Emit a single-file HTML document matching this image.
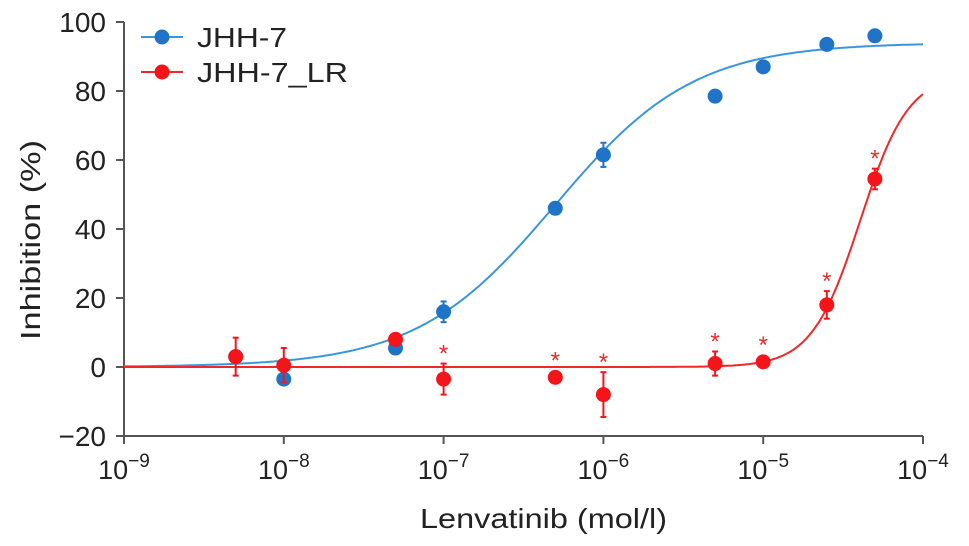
<!DOCTYPE html>
<html><head><meta charset="utf-8"><style>
body{margin:0;background:#fff;}
svg{display:block;font-family:"Liberation Sans",Arial,sans-serif;}
</style></head><body>
<svg id="chart" width="969" height="546"></svg>
<script>
const doses=[5e-9,1e-8,5e-8,1e-7,5e-7,1e-6,5e-6,1e-5,2.5e-5,5e-5];
const blueVals=[3,-3.5,5.5,16,46,61.5,78.5,87,93.5,96];
const blueErr=[0,0,1.5,3,0,3.5,0,0,0,0];
const redVals=[3,0.5,8,-3.5,-3,-8,1,1.5,18,54.5];
const redErr=[5.5,5,0,4.5,0,6.5,3.5,0,4,3];
const redSig=[0,0,0,1,1,1,1,1,1,1];
const blueFit={top:94,ec50:5e-7,hill:1};
const redFit={top:85,ec50:4.05e-5,hill:2.87};
const yTicks=[-20,0,20,40,60,80,100];
const xTickExp=[-9,-8,-7,-6,-5,-4];

const NS="http://www.w3.org/2000/svg";
const svg=document.getElementById('chart');
const X0=124,X1=923,Y0=436,Y1=22;
const xs=v=>X0+(Math.log10(v)+9)/5*(X1-X0);
const ys=v=>Y0-(v+20)/120*(Y0-Y1);
function mk(t,a,p){const e=document.createElementNS(NS,t);for(const k in a)e.setAttribute(k,a[k]);(p||svg).appendChild(e);return e;}
const gray="#555";
let e=mk('line',{x1:X0,y1:Y1,x2:X0,y2:Y0,stroke:gray,'stroke-width':2});

e=mk('line',{x1:X0,y1:Y0,x2:X1,y2:Y0,stroke:gray,'stroke-width':2});

yTicks.forEach(v=>{
  mk('line',{x1:X0-8,y1:ys(v),x2:X0,y2:ys(v),stroke:gray,'stroke-width':2});
  const t=mk('text',{x:X0-18,y:ys(v)+10,'text-anchor':'end','font-size':28,fill:'#222'});
  t.textContent=v<0?'\u2212'+(-v):String(v);
  
  
});
xTickExp.forEach(p=>{
  const x=xs(Math.pow(10,p));
  mk('line',{x1:x,y1:Y0,x2:x,y2:Y0+8,stroke:gray,'stroke-width':2});
  const t=mk('text',{x:x,y:Y0+43,'text-anchor':'middle','font-size':27,fill:'#222'});
  
  
  t.appendChild(document.createTextNode('10'));
  const s=mk('tspan',{dy:-12,'font-size':19},t);s.textContent='\u2212'+(-p);
});
e=mk('text',{x:420,y:528,'font-size':28,fill:'#222',textLength:247,lengthAdjust:'spacingAndGlyphs'});
e.textContent='Lenvatinib (mol/l)';

e=mk('text',{x:0,y:0,'font-size':28,fill:'#222',textLength:200,lengthAdjust:'spacingAndGlyphs',transform:'translate(40,340) rotate(-90)'});
e.textContent='Inhibition (%)';

function curve(f,col,name){
  let d='';
  for(let i=0;i<=400;i++){const lx=-9+5*i/400;const v=Math.pow(10,lx);
    const y=f.top/(1+Math.pow(f.ec50/v,f.hill));d+=(i?'L':'M')+xs(v).toFixed(1)+','+ys(y).toFixed(1);}
  const p=mk('path',{d:d,fill:'none',stroke:col,'stroke-width':2});
  
}
curve(blueFit,'#3a96dc','jhh7-fit-curve');
curve(redFit,'#f0282a','jhh7-lr-fit-curve');
function pts(vals,err,col,name){
  vals.forEach((v,i)=>{
    const x=xs(doses[i]);
    if(err[i]>0){
      mk('line',{x1:x,y1:ys(v+err[i]),x2:x,y2:ys(v-err[i]),stroke:col,'stroke-width':2});
      [v+err[i],v-err[i]].forEach(q=>mk('line',{x1:x-3,y1:ys(q),x2:x+3,y2:ys(q),stroke:col,'stroke-width':2}));
    }
    const c=mk('circle',{cx:x,cy:ys(v),r:7.5,fill:col});
    
  });
}
pts(blueVals,blueErr,'#1f74c8','jhh7-point');
pts(redVals,redErr,'#f4141a','jhh7-lr-point');
redSig.forEach((s,i)=>{if(!s)return;
  const top=Math.max(redVals[i]+redErr[i],redVals[i]+2);
  const t=mk('text',{x:xs(doses[i]),y:ys(top)-2,'text-anchor':'middle','font-size':24,fill:'#f0282a'});
  t.textContent='*';
  
});
[['JHH-7','#1f74c8','#3a96dc',37,90],['JHH-7_LR','#f4141a','#f0282a',72,151]].forEach(l=>{
  const g=mk('g',{});
  
  mk('line',{x1:141,y1:l[3],x2:183,y2:l[3],stroke:l[2],'stroke-width':2},g);
  mk('circle',{cx:162,cy:l[3],r:7.5,fill:l[1]},g);
  const t=mk('text',{x:197,y:l[3]+10,'font-size':28,fill:'#222',textLength:l[4],lengthAdjust:'spacingAndGlyphs'},g);t.textContent=l[0];
});
</script>
</body></html>
